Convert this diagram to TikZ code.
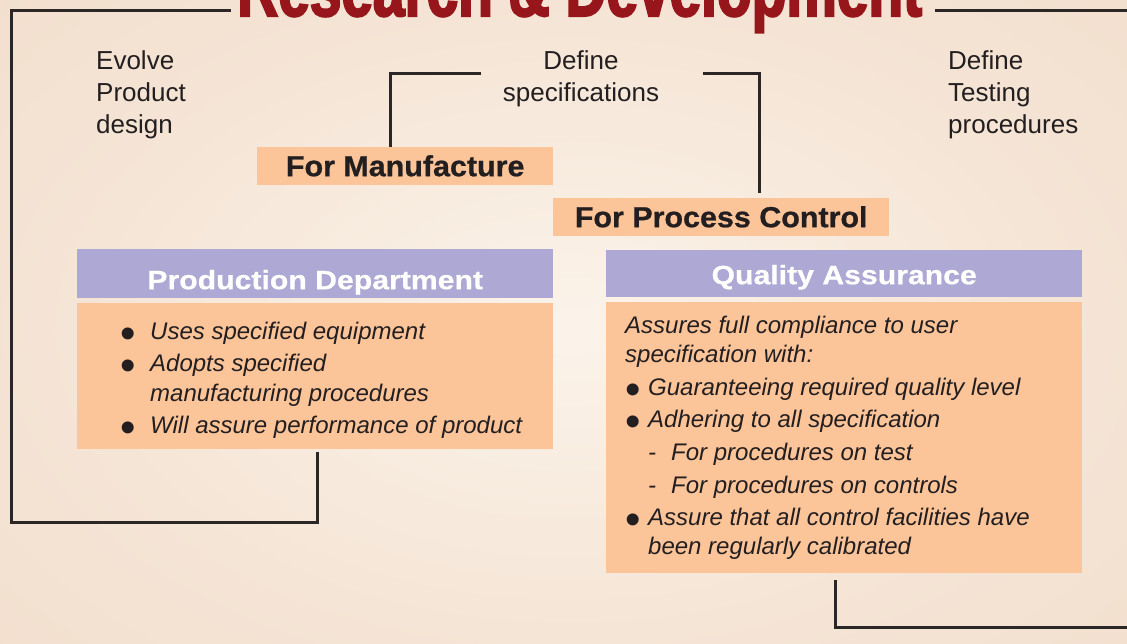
\documentclass[tikz,border=0pt]{standalone}
\usepackage{fontspec}
\setmainfont{Liberation Sans}
\newfontfamily\titlefont[FakeStretch=0.71,FakeBold=2.5]{Liberation Sans Bold}
\newfontfamily\headfont[FakeStretch=1.14,FakeBold=0.6]{Liberation Sans Bold}
\newfontfamily\labfont[FakeStretch=1.05,FakeBold=0.8]{Liberation Sans Bold}
\definecolor{bgin}{HTML}{FBF3EA}
\definecolor{bgmid}{HTML}{F5E5D6}
\definecolor{bgout}{HTML}{EDD4BF}
\definecolor{peach}{HTML}{FCC499}
\definecolor{lav}{HTML}{ADA8D4}
\definecolor{linec}{HTML}{2B2727}
\definecolor{txtc}{HTML}{231F20}
\definecolor{titlered}{HTML}{97161C}
\pgfdeclareradialshading{bgshade}{\pgfpoint{0bp}{0bp}}{color(0bp)=(bgin); color(18bp)=(bgmid); color(50bp)=(bgout)}
\newcommand\bul[1]{\makebox[#1][l]{\smash{\raisebox{-9pt}{\upshape\fontsize{44}{44}\selectfont\textbullet}}}}
\begin{document}
\begin{tikzpicture}[x=1pt,y=-1pt,
  conn/.style={draw=linec,line width=3pt},
  plain/.style={text=txtc,font=\fontsize{26}{32}\selectfont,inner sep=0pt,align=left},
  lblbox/.style={fill=peach,inner sep=0pt,text=txtc,font=\labfont\fontsize{29}{29}\selectfont,text height=20pt,text depth=0pt,minimum height=38pt,anchor=north west},
  headbox/.style={fill=lav,inner sep=0pt,text=white,font=\headfont\fontsize{26.5}{26.5}\selectfont,minimum width=476pt,text depth=0pt,anchor=north west},
  bodybox/.style={fill=peach,inner sep=0pt,minimum width=476pt,anchor=north west},
  bodytxt/.style={text=txtc,inner sep=0pt,align=left,anchor=west}
]
\useasboundingbox (0,0) rectangle (1127,643);
\begin{scope}
\clip (0,0) rectangle (1127,643);
\fill[bgout] (0,0) rectangle (1127,643);
\shade[shading=bgshade] (-110,-90) rectangle (1250,750);
\node[anchor=base west,inner sep=0pt,text=titlered,font=\titlefont\fontsize{80}{80}\selectfont] (title) at (237,16) {Research \& Development};
\end{scope}

% plain texts
\node[plain,anchor=north west] (evolve) at (96,50) {Evolve\\Product\\design};
\node[plain,anchor=north,align=center] (defspec) at (581,50) {Define\\specifications};
\node[plain,anchor=north west] (deftest) at (948,50) {Define\\Testing\\procedures};

% label boxes
\node[lblbox,minimum width=296pt] (man) at (257,147) {For Manufacture};
\node[lblbox,minimum width=336pt] (proc) at (553,198) {For Process Control};

% production department
\node[headbox,minimum height=49pt,text height=31pt] (prodh) at (77,249) {Production Department};
\node[bodybox,minimum height=146pt] (prodb) at (77,303) {};
\node[bodytxt,font=\fontsize{24}{30}\selectfont\itshape] (prodt) at ([xshift=43pt,yshift=-4pt]prodb.west) {%
\bul{30pt}Uses specified equipment\\[2pt]
\bul{30pt}Adopts specified\\
\hspace*{30pt}manufacturing procedures\\[2pt]
\bul{30pt}Will assure performance of product};

% quality assurance
\node[headbox,minimum height=47pt,text height=21pt] (qah) at (606,250) {Quality Assurance};
\node[bodybox,minimum height=271pt] (qab) at (606,302) {};
\node[bodytxt,font=\fontsize{24}{29}\selectfont\itshape] (qat) at ([xshift=19pt]qab.west) {%
Assures full compliance to user\\
specification with:\\[4pt]
\bul{23pt}Guaranteeing required quality level\\[3pt]
\bul{23pt}Adhering to all specification\\[4pt]
\hspace*{23pt}\makebox[23pt][l]{-}For procedures on test\\[4pt]
\hspace*{23pt}\makebox[23pt][l]{-}For procedures on controls\\[3pt]
\bul{23pt}Assure that all control facilities have\\
\hspace*{23pt}been regularly calibrated};

% connectors
\coordinate (s1) at (481,73);
\coordinate (s2) at (703,73);
\draw[conn] (s1) -| ([xshift=-15pt]man.north);
\draw[conn] (s2) -| ([xshift=38pt,yshift=5pt]proc.north);

\coordinate (t1) at (231,10);
\coordinate (fl) at (11,10);
\coordinate (fb) at (11,522);
\draw[conn] (t1) -- (fl) -- (fb) -| ([xshift=2pt,yshift=-3pt]prodb.south);

\coordinate (t2) at (935,10);
\coordinate (tr) at (1127,10);
\draw[conn] (t2) -- (tr);

\coordinate (rb) at (1127,627);
\draw[conn] ([xshift=-9pt,yshift=-7pt]qab.south) |- (rb);
\end{tikzpicture}
\end{document}
